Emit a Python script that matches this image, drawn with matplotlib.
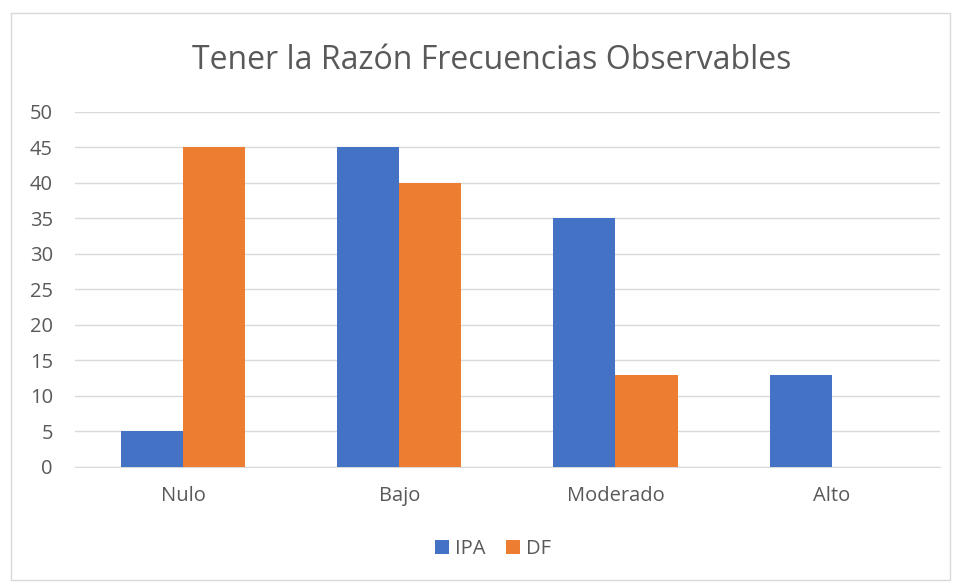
import matplotlib.pyplot as plt
import numpy as np
from matplotlib.patches import Rectangle

categories = ["Nulo", "Bajo", "Moderado", "Alto"]
ipa_values = [5, 45, 35, 13]
df_values = [45, 40, 13, 0]

plt.rcParams["font.family"] = ["Open Sans", "DejaVu Sans"]

fig = plt.figure(figsize=(9.56, 5.83), dpi=100)
ax = fig.add_axes([0.0785, 0.199, 0.9045, 0.609])

x = np.arange(len(categories))
width = 0.287
ax.bar(x - width / 2, ipa_values, width, color="#4472C4", label="IPA", zorder=3)
ax.bar(x + width / 2, df_values, width, color="#ED7D31", label="DF", zorder=3)

ax.set_xlim(-0.5, len(categories) - 0.5)
ax.set_ylim(0, 50)
ax.set_yticks(range(0, 51, 5))
ax.set_xticks(x)
ax.set_xticklabels(categories)
ax.grid(axis="y", color="#D9D9D9", linewidth=1, zorder=0)
for side in ["top", "right", "left"]:
    ax.spines[side].set_visible(False)
ax.spines["bottom"].set_color("#D9D9D9")
ax.tick_params(axis="y", length=0, labelsize=14.5, colors="#595959", pad=16)
ax.tick_params(axis="x", length=0, labelsize=14.5, colors="#595959", pad=14)

fig.text(0.514, 0.897, "Tener la Razón Frecuencias Observables",
         ha="center", va="center", fontsize=23, color="#595959")

fig.legend(loc="center", bbox_to_anchor=(0.516, 0.058), ncol=2, frameon=False,
           fontsize=14.5, handlelength=0.7, handleheight=0.7, columnspacing=1.0,
           handletextpad=0.3, labelcolor="#595959")

fig.patches.append(Rectangle((0.011, 0.005), 0.983, 0.973, transform=fig.transFigure,
                             fill=False, edgecolor="#D9D9D9", linewidth=1))

fig.savefig("out.png", dpi=100)
